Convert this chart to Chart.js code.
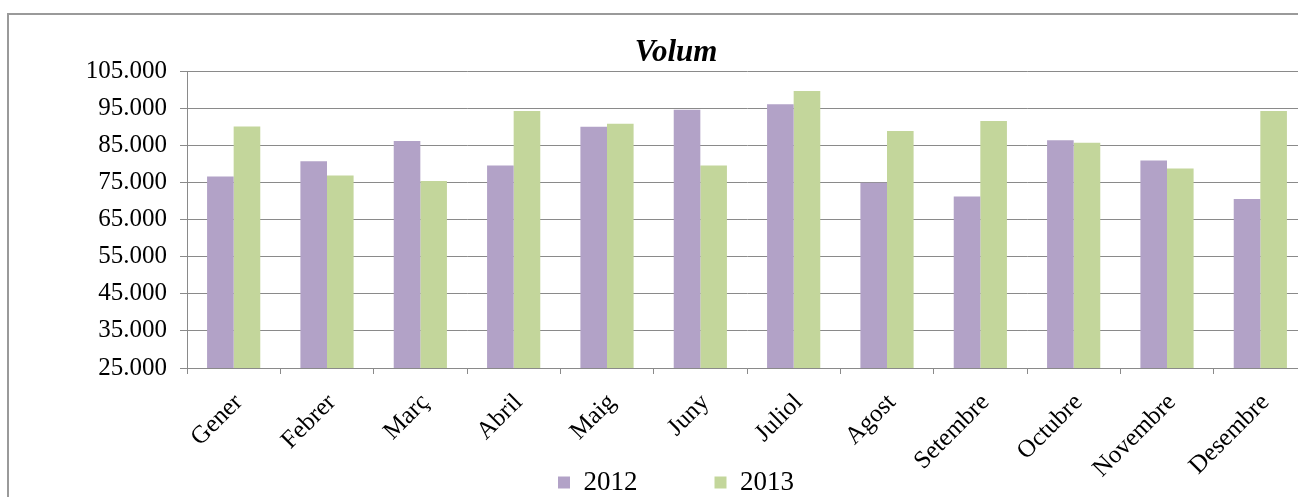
<!DOCTYPE html>
<html>
<head>
<meta charset="utf-8">
<script src="https://cdn.jsdelivr.net/npm/chart.js@4/dist/chart.umd.min.js"></script>
<style>
  html, body { margin: 0; padding: 0; background: #ffffff; overflow: hidden; width: 1298px; height: 497px; }
  #frame { position: absolute; left: 7px; top: 13px; width: 1400px; height: 600px; border: 2px solid #9a9a9a; box-sizing: border-box; }
  #c { position: absolute; left: 0; top: 0; }
</style>
</head>
<body>
<div id="frame"></div>
<canvas id="c" width="1354" height="506" style="width:1354px;height:506px"></canvas>
<script>
const categories = ['Gener', 'Febrer', 'Març', 'Abril', 'Maig', 'Juny', 'Juliol', 'Agost', 'Setembre', 'Octubre', 'Novembre', 'Desembre'];
const seriesNames = ['2012', '2013'];
const values2012 = [76600, 80700, 86200, 79600, 90000, 94600, 96100, 74900, 71200, 86400, 80900, 70550];
const values2013 = [90100, 76900, 75400, 94300, 90850, 79600, 99650, 88900, 91600, 85700, 78800, 94300];
const yMin = 25000;
const yMax = 105000;
const yStep = 10000;
const chartTitle = 'Volum';

function fmt(v) {
  return String(Math.round(v)).replace(/\B(?=(\d{3})+(?!\d))/g, '.');
}

const serif = "'Liberation Serif', 'Times New Roman', serif";
const gridColor = '#8a8a8a';

new Chart(document.getElementById('c'), {
  type: 'bar',
  data: {
    labels: categories,
    datasets: [
      { label: seriesNames[0], data: values2012, backgroundColor: '#B2A2C7', borderWidth: 0 },
      { label: seriesNames[1], data: values2013, backgroundColor: '#C3D69B', borderWidth: 0 }
    ]
  },
  options: {
    responsive: false,
    animation: false,
    devicePixelRatio: 1,
    layout: { padding: { left: 45, right: 47, top: 0, bottom: 0 } },
    datasets: { bar: { categoryPercentage: 0.57, barPercentage: 1.0 } },
    plugins: {
      title: {
        display: true,
        text: chartTitle,
        color: '#000',
        font: { family: serif, size: 31, weight: 'bold', style: 'italic' },
        padding: { top: 34, bottom: 0 }
      },
      legend: {
        display: true,
        position: 'bottom',
        labels: {
          color: '#000',
          font: { family: serif, size: 27 },
          boxWidth: 12,
          boxHeight: 12,
          padding: 77
        }
      },
      tooltip: { enabled: false }
    },
    scales: {
      x: {
        grid: { display: true, drawOnChartArea: false, drawTicks: true, tickLength: 6, color: gridColor, offset: true },
        border: { display: true, color: gridColor, width: 1 },
        ticks: {
          color: '#000',
          font: { family: serif, size: 25 },
          minRotation: 45,
          maxRotation: 45,
          padding: 14,
          labelOffset: 5,
          autoSkip: false
        },
        afterFit: (s) => {
          s.height = 24;
          // let the rotated labels run below the (short) axis box, over the legend band
          s._computeLabelArea = () => undefined;
        }
      },
      y: {
        min: yMin,
        max: yMax,
        grid: { display: true, drawOnChartArea: true, drawTicks: true, tickLength: 7, color: gridColor },
        border: { display: true, color: gridColor, width: 1 },
        ticks: {
          stepSize: yStep,
          color: '#000',
          font: { family: serif, size: 25 },
          padding: 13,
          callback: (v) => fmt(v)
        },
        afterFit: (s) => { s.width = 142; }
      }
    }
  }
});
</script>
</body>
</html>
